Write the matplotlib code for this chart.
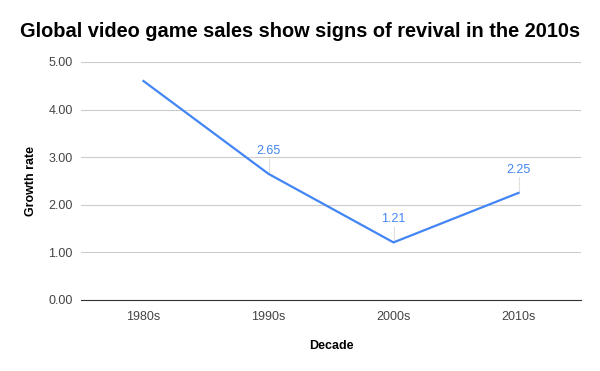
import numpy as np
import matplotlib.pyplot as plt

plt.rcParams['font.family'] = ['Liberation Sans', 'DejaVu Sans']

decades = ['1980s', '1990s', '2000s', '2010s']
growth = [4.60, 2.65, 1.21, 2.25]
labelled = [False, True, True, True]

blue = '#4285F4'

fig = plt.figure(figsize=(6, 3.71), dpi=100)
ax = fig.add_axes([81 / 600, 1 - 300 / 371, 500 / 600, 238 / 371])

x = np.arange(len(decades))
ax.plot(x, growth, color=blue, lw=1.6, solid_joinstyle='round', zorder=3)

for xi, yi, show in zip(x, growth, labelled):
    if not show:
        continue
    ax.plot([xi, xi], [yi, yi + 0.33], color='#e0e0e0', lw=0.8, zorder=2)
    ax.text(xi, yi + 0.36, f'{yi:.2f}', color=blue, fontsize=9,
            ha='center', va='bottom')

ax.set_xlim(-0.5, len(decades) - 0.5)
ax.set_ylim(0, 5)
ax.set_yticks(np.arange(0, 5.01, 1))
ax.set_yticklabels([f'{v:.2f}' for v in np.arange(0, 5.01, 1)])
ax.set_xticks(x)
ax.set_xticklabels(decades)
ax.grid(axis='y', color='#cccccc', lw=0.8)
ax.set_axisbelow(True)
for s in ['top', 'right', 'left']:
    ax.spines[s].set_visible(False)
ax.spines['bottom'].set_color('#333333')
ax.tick_params(length=0, labelsize=9, colors='#444444', pad=6)
ax.tick_params(axis='x', pad=8)

ax.set_xlabel('Decade', fontsize=9, fontweight='bold', labelpad=12)
ax.set_ylabel('Growth rate', fontsize=9, fontweight='bold', labelpad=8)

fig.suptitle('Global video game sales show signs of revival in the 2010s',
             fontsize=14.4, fontweight='bold', x=0.5, y=0.94)

fig.savefig('out.png', dpi=100)
